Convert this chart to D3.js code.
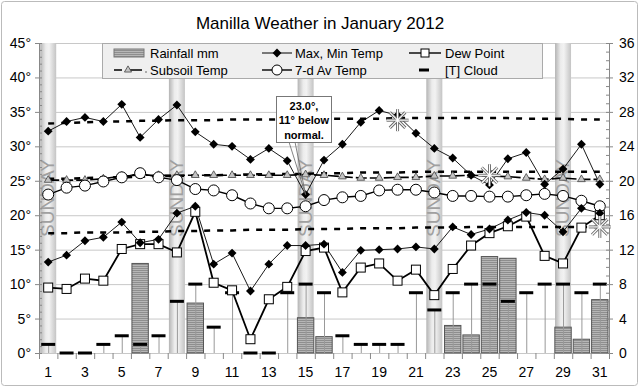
<!DOCTYPE html>
<html>
<head>
<meta charset="utf-8">
<script src="https://cdn.jsdelivr.net/npm/d3@7"></script>
<style>
  body { margin: 0; background: #fff; }
  svg text { font-family: "Liberation Sans", Arial, sans-serif; }
</style>
</head>
<body>
<svg id="chart" width="640" height="388"></svg>
<script>
// ---- data ----
var days = d3.range(1, 32);
var sundays = [1, 8, 15, 22, 29];
var maxT = [32.2,33.6,34.2,33.6,36.1,31.3,33.9,36.0,32.1,30.3,30.0,28.1,29.7,27.9,23.0,28.0,30.3,33.5,35.2,34.5,31.9,29.7,28.3,25.8,24.4,28.2,29.1,24.5,26.7,30.3,24.5];
var minT = [13.2,14.2,16.3,16.8,19.0,16.0,16.5,20.3,21.3,12.9,14.5,9.0,12.9,15.6,15.6,15.8,11.7,14.9,15.0,15.1,15.4,15.1,18.3,17.2,18.0,19.3,20.4,20.0,17.6,21.0,20.3];
var dewPt = [9.5,9.3,10.8,10.5,15.1,15.8,15.8,14.6,20.5,10.2,9.1,2.0,7.8,9.6,14.8,15.3,8.8,12.4,13.0,10.5,12.1,8.4,12.2,15.6,17.4,18.4,19.8,14.1,13.0,18.2,20.0];
var avg7 = [23.0,24.0,24.3,24.9,25.5,26.1,25.5,25.1,23.8,23.6,22.9,21.7,21.0,21.0,21.3,22.2,22.6,22.8,23.6,23.7,23.7,23.3,22.8,22.8,22.7,22.7,22.9,23.1,22.8,22.1,21.3];
var subsoil = [25.1,25.1,25.1,25.3,25.7,25.8,25.8,25.8,25.8,25.8,25.8,25.8,25.8,25.8,25.9,25.8,25.6,25.4,25.4,25.5,25.5,25.7,25.7,25.8,25.7,25.6,25.4,25.2,25.4,25.2,25.2];
var normMax = [33.3,33.4,33.5,33.6,33.6,33.7,33.7,33.8,33.8,33.8,33.9,33.9,33.9,33.9,33.9,34.0,34.0,34.0,34.0,34.1,34.1,34.1,34.1,34.1,34.1,34.1,34.0,34.0,34.0,33.9,33.9];
var normMid = [25.3,25.3,25.4,25.5,25.5,25.6,25.7,25.7,25.8,25.8,25.9,25.9,26.0,26.0,26.0,26.1,26.1,26.2,26.2,26.2,26.3,26.3,26.3,26.3,26.3,26.3,26.3,26.3,26.3,26.3,26.3];
var normMin = [17.4,17.4,17.5,17.5,17.5,17.6,17.6,17.7,17.7,17.8,17.8,17.9,17.9,17.9,18.0,18.0,18.0,18.1,18.1,18.1,18.2,18.2,18.2,18.3,18.3,18.3,18.3,18.3,18.3,18.3,18.3];
var rain = [0,0,0,0,0,10.4,0,0,5.8,0,0,0,0,0,4.1,1.9,0,0,0,0,0,0,3.2,2.1,11.2,11.0,0,0,3.0,1.6,6.2];
var cloud = [1,0,0,1,2,1,2,6,8,3,7,0,0,7,8,7,2,1,1,1,7,5,7,8,8,6,7,8,8,7,8];
var starDays = [20, 25, 31];
var starVals = [33.8, 25.8, 18.3];
var leftTicks = [0,5,10,15,20,25,30,35,40,45];
var rightTicks = [0,4,8,12,16,20,24,28,32,36];
var noteDay = 15;
var noteLines = ["23.0°,", "11° below", "normal."];

var svg = d3.select("#chart");
var pL = 39, pR = 609, pT = 43, pB = 353;

var x = d3.scaleBand().domain(days).range([pL, pR]);
var xc = function(d){ return x(d) + x.bandwidth() / 2; };
var yL = d3.scaleLinear().domain([0, 45]).range([pB, pT]);
var yR = d3.scaleLinear().domain([0, 36]).range([pB, pT]);

// outer frame
svg.append("rect").attr("x", 1.5).attr("y", 1.5).attr("width", 636).attr("height", 384)
  .attr("rx", 3).attr("fill", "#fff").attr("stroke", "#bbb");

var defs = svg.append("defs");
var grad = defs.append("linearGradient").attr("id", "sun").attr("x1", "0").attr("x2", "1").attr("y1", "0").attr("y2", "0");
grad.append("stop").attr("offset", "0%").attr("stop-color", "#b4b4b4");
grad.append("stop").attr("offset", "35%").attr("stop-color", "#ececec");
grad.append("stop").attr("offset", "55%").attr("stop-color", "#f2f2f2");
grad.append("stop").attr("offset", "100%").attr("stop-color", "#c4c4c4");
var pat = defs.append("pattern").attr("id", "hatch").attr("width", 4).attr("height", 2)
  .attr("patternUnits", "userSpaceOnUse");
pat.append("rect").attr("width", 4).attr("height", 2).attr("fill", "#b6b6b6");
pat.append("rect").attr("width", 4).attr("height", 1).attr("fill", "#8e8e8e");

// title
svg.append("text").attr("x", 320).attr("y", 29).attr("text-anchor", "middle")
  .attr("font-size", 17).text("Manilla Weather in January 2012");

// gridlines
svg.append("g").selectAll("line").data(leftTicks).enter().append("line")
  .attr("x1", pL).attr("x2", pR)
  .attr("y1", function(d){ return yL(d) + 0.5; }).attr("y2", function(d){ return yL(d) + 0.5; })
  .attr("stroke", "#c8c8c8");

// sunday bands
svg.append("g").selectAll("rect").data(sundays).enter().append("rect")
  .attr("x", function(d){ return xc(d) - 8; }).attr("width", 16)
  .attr("y", pT).attr("height", pB - pT).attr("fill", "url(#sun)");
svg.append("g").selectAll("text").data(sundays).enter().append("text")
  .attr("transform", function(d){ return "translate(" + (xc(d) + 6) + "," + ((pT + pB) / 2) + ") rotate(-90)"; })
  .attr("text-anchor", "middle").attr("font-size", 19).attr("fill", "#a0a0a0").text("SUNDAY");

// rain bars
svg.append("g").selectAll("rect").data(days.filter(function(d){ return rain[d - 1] > 0; })).enter().append("rect")
  .attr("x", function(d){ return x(d) + 1; }).attr("width", x.bandwidth() - 2)
  .attr("y", function(d){ return yR(rain[d - 1]); })
  .attr("height", function(d){ return yR(0) - yR(rain[d - 1]); })
  .attr("fill", "url(#hatch)").attr("stroke", "#555").attr("stroke-width", 1);

// cloud T markers
var cl = svg.append("g");
cl.selectAll("line.stem").data(days).enter().append("line").attr("class", "stem")
  .attr("x1", function(d){ return xc(d) + 0.5; }).attr("x2", function(d){ return xc(d) + 0.5; })
  .attr("y1", yR(0)).attr("y2", function(d){ return yR(cloud[d - 1]); })
  .attr("stroke", "#999");
cl.selectAll("line.bar").data(days).enter().append("line").attr("class", "bar")
  .attr("x1", function(d){ return xc(d) - 7; }).attr("x2", function(d){ return xc(d) + 7; })
  .attr("y1", function(d){ return yR(cloud[d - 1]); }).attr("y2", function(d){ return yR(cloud[d - 1]); })
  .attr("stroke", "#000").attr("stroke-width", 3);

// normal dashed lines
[normMax, normMid, normMin].forEach(function(arr){
  svg.append("path").datum(days)
    .attr("d", d3.line().x(xc).y(function(d){ return yL(arr[d - 1]); }))
    .attr("fill", "none").attr("stroke", "#000").attr("stroke-width", 2.5)
    .attr("stroke-dasharray", "6,7");
});

// axes
svg.append("g").attr("transform", "translate(" + pL + ",0)")
  .call(d3.axisLeft(yL).tickValues(leftTicks).tickSize(4).tickPadding(4).tickFormat(function(d){ return d + "°"; }));
svg.append("g").attr("transform", "translate(" + pL + ",0)")
  .call(d3.axisLeft(yL).ticks(45).tickSize(-3).tickFormat(""));
svg.append("g").attr("transform", "translate(" + pR + ",0)")
  .call(d3.axisRight(yR).tickValues(rightTicks).tickSize(4).tickPadding(6));
svg.append("g").attr("transform", "translate(" + pR + ",0)")
  .call(d3.axisRight(yR).ticks(36).tickSize(-3).tickFormat(""));
svg.selectAll(".domain, .tick line").attr("stroke", "#888");
svg.selectAll(".tick text").attr("font-size", 14).attr("fill", "#000")
  .attr("font-family", "Liberation Sans, Arial, sans-serif");

// x ticks and labels
var bounds = days.map(function(d){ return x(d); }).concat([pR]);
svg.append("g").selectAll("line").data(bounds).enter().append("line")
  .attr("x1", function(d){ return d + 0.5; }).attr("x2", function(d){ return d + 0.5; })
  .attr("y1", pB).attr("y2", pB + 6).attr("stroke", "#888");
svg.append("g").selectAll("text").data(days.filter(function(d){ return d % 2 === 1; })).enter().append("text")
  .attr("x", xc).attr("y", 377).attr("text-anchor", "middle").attr("font-size", 14).text(function(d){ return d; });

// series
function series(arr, width, dash){
  return svg.append("path").datum(days)
    .attr("d", d3.line().x(xc).y(function(d){ return yL(arr[d - 1]); }))
    .attr("fill", "none").attr("stroke", "#000").attr("stroke-width", width)
    .attr("stroke-dasharray", dash || null);
}
series(subsoil, 1.6, "11,3");
series(avg7, 1.4);
series(dewPt, 1.8);
series(maxT, 0.9);
series(minT, 0.9);

var tri = d3.symbol().type(d3.symbolTriangle).size(26);
svg.append("g").selectAll("path").data(days).enter().append("path")
  .attr("d", tri).attr("transform", function(d){ return "translate(" + xc(d) + "," + yL(subsoil[d - 1]) + ")"; })
  .attr("fill", "#c4c4c4").attr("stroke", "#444").attr("stroke-width", 0.8);
svg.append("g").selectAll("circle").data(days).enter().append("circle")
  .attr("cx", xc).attr("cy", function(d){ return yL(avg7[d - 1]); }).attr("r", 5.5)
  .attr("fill", "#fff").attr("stroke", "#000").attr("stroke-width", 1);
svg.append("g").selectAll("rect").data(days).enter().append("rect")
  .attr("x", function(d){ return xc(d) - 4.5; }).attr("y", function(d){ return yL(dewPt[d - 1]) - 4.5; })
  .attr("width", 9).attr("height", 9).attr("fill", "#fff").attr("stroke", "#000").attr("stroke-width", 1);
var dia = d3.symbol().type(d3.symbolDiamond2).size(50);
[maxT, minT].forEach(function(arr){
  svg.append("g").selectAll("path").data(days).enter().append("path")
    .attr("d", dia).attr("transform", function(d){ return "translate(" + xc(d) + "," + yL(arr[d - 1]) + ")"; })
    .attr("fill", "#000");
});

// asterisks
var stars = svg.append("g");
starDays.forEach(function(d, i){
  var cx = xc(d), cy = yL(starVals[i]);
  var arms = d3.range(4).map(function(k){ return k * Math.PI / 4; });
  [["#666", 3], ["#fff", 1.2]].forEach(function(s){
    stars.selectAll(null).data(arms).enter().append("line")
      .attr("x1", function(a){ return cx - 11 * Math.cos(a); }).attr("y1", function(a){ return cy - 11 * Math.sin(a); })
      .attr("x2", function(a){ return cx + 11 * Math.cos(a); }).attr("y2", function(a){ return cy + 11 * Math.sin(a); })
      .attr("stroke", s[0]).attr("stroke-width", s[1]);
  });
});

// legend
var lg = svg.append("g");
lg.append("rect").attr("x", 102.5).attr("y", 43.5).attr("width", 440).attr("height", 35)
  .attr("fill", "#efefef").attr("stroke", "#aaa");
var r1 = 53, r2 = 70;
lg.append("rect").attr("x", 114).attr("y", r1 - 4).attr("width", 30).attr("height", 8)
  .attr("fill", "url(#hatch)").attr("stroke", "#777");
lg.append("line").attr("x1", 114).attr("x2", 142).attr("y1", r2).attr("y2", r2)
  .attr("stroke", "#000").attr("stroke-width", 1.4).attr("stroke-dasharray", "8,4,16");
lg.append("path").attr("d", d3.symbol().type(d3.symbolTriangle).size(22))
  .attr("transform", "translate(128," + r2 + ")").attr("fill", "#c4c4c4").attr("stroke", "#444").attr("stroke-width", 0.8);
lg.append("circle").attr("cx", 146).attr("cy", r2 + 2).attr("r", 0.8).attr("fill", "#555");
lg.append("line").attr("x1", 262).attr("x2", 292).attr("y1", r1).attr("y2", r1).attr("stroke", "#000");
lg.append("path").attr("d", dia).attr("transform", "translate(277," + r1 + ")").attr("fill", "#000");
lg.append("line").attr("x1", 262).attr("x2", 292).attr("y1", r2).attr("y2", r2).attr("stroke", "#000").attr("stroke-width", 1.4);
lg.append("circle").attr("cx", 277).attr("cy", r2).attr("r", 5).attr("fill", "#fff").attr("stroke", "#000");
lg.append("line").attr("x1", 409).attr("x2", 441).attr("y1", r1).attr("y2", r1).attr("stroke", "#000").attr("stroke-width", 1.4);
lg.append("rect").attr("x", 421).attr("y", r1 - 4).attr("width", 8).attr("height", 8).attr("fill", "#fff").attr("stroke", "#000");
lg.append("line").attr("x1", 419).attr("x2", 429).attr("y1", r2).attr("y2", r2).attr("stroke", "#000").attr("stroke-width", 3);
var ltxt = [[150, r1, "Rainfall mm"], [150, r2, "Subsoil Temp"], [295, r1, "Max, Min Temp"],
            [295, r2, "7-d Av Temp"], [445, r1, "Dew Point"], [445, r2, "[T] Cloud"]];
lg.selectAll("text").data(ltxt).enter().append("text")
  .attr("x", function(d){ return d[0]; }).attr("y", function(d){ return d[1] + 4.5; })
  .attr("font-size", 13).text(function(d){ return d[2]; });

// annotation
var px = xc(noteDay), py = yL(maxT[noteDay - 1]);
var an = svg.append("g");
an.append("path").attr("d", "M289," + 142 + "L" + px + "," + py + "L295," + 142)
  .attr("fill", "none").attr("stroke", "#666").attr("stroke-width", 0.8);
an.append("rect").attr("x", 276.5).attr("y", 96.5).attr("width", 55).attr("height", 46)
  .attr("fill", "#fff").attr("stroke", "#777");
an.selectAll("text").data(noteLines).enter().append("text")
  .attr("x", 304).attr("y", function(d, i){ return 109.5 + i * 14.5; })
  .attr("text-anchor", "middle").attr("font-size", 11).attr("font-weight", "bold").text(function(d){ return d; });
</script>
</body>
</html>
